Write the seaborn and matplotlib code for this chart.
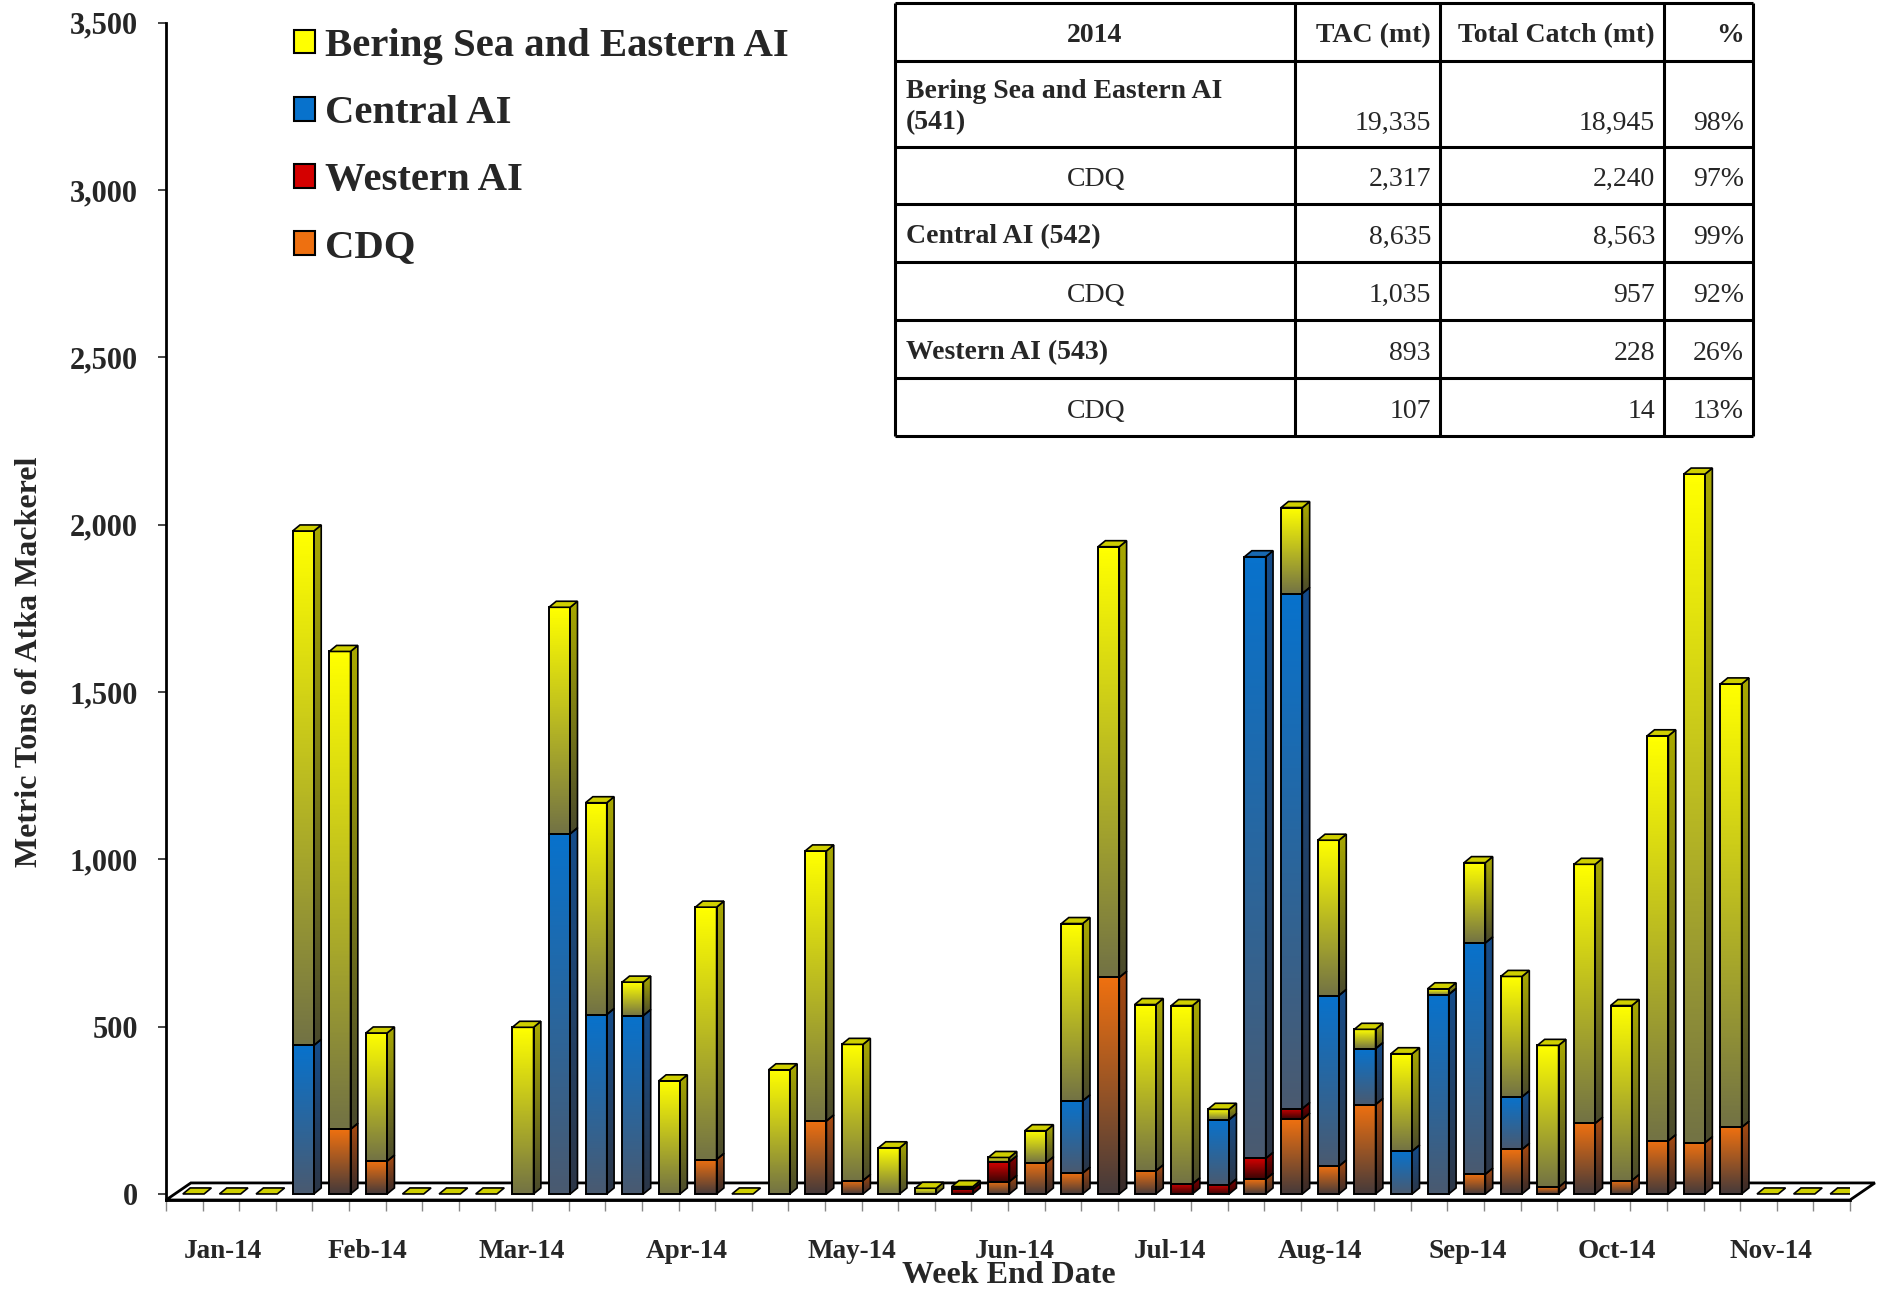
import numpy as np
import matplotlib
matplotlib.use("Agg")
import matplotlib.pyplot as plt
import seaborn as sns
from matplotlib.colors import LinearSegmentedColormap
from matplotlib.patches import Polygon, Patch

# weekly catch (mt), weeks ending Jan-14 .. Nov-14
weeks = np.arange(1, 47)
cdq = [0, 0, 0, 0, 193, 98, 0, 0, 0, 0,
       0, 0, 0, 0, 103, 0, 0, 218, 40, 0,
       0, 0, 37, 93, 62, 647, 69, 0, 0, 44,
       223, 83, 267, 0, 0, 59, 133, 20, 211, 40,
       159, 153, 199, 0, 0, 0]
western = [0, 0, 0, 0, 0, 0, 0, 0, 0, 0,
           0, 0, 0, 0, 0, 0, 0, 0, 0, 0,
           0, 14, 59, 0, 0, 0, 0, 30, 27, 62,
           32, 0, 0, 0, 0, 0, 0, 0, 0, 0,
           0, 0, 0, 0, 0, 0]
central = [0, 0, 0, 444, 0, 0, 0, 0, 0, 0,
           1076, 536, 533, 0, 0, 0, 0, 0, 0, 0,
           0, 0, 0, 0, 216, 0, 0, 0, 195, 1798,
           1539, 510, 167, 128, 596, 691, 157, 0, 0, 0,
           0, 0, 0, 0, 0, 0]
bsai = [0, 0, 0, 1537, 1428, 383, 0, 0, 0, 498,
        677, 633, 100, 338, 754, 0, 371, 807, 407, 138,
        17, 8, 13, 96, 530, 1287, 497, 533, 31, 0,
        257, 464, 58, 291, 17, 240, 360, 424, 774, 523,
        1210, 1998, 1325, 0, 0, 0]

months = ["Jan-14", "Feb-14", "Mar-14", "Apr-14", "May-14", "Jun-14",
          "Jul-14", "Aug-14", "Sep-14", "Oct-14", "Nov-14"]
month_pos = [1.56, 5.49, 9.72, 14.23, 18.74, 23.17, 27.43, 31.53, 35.55, 39.64, 43.83]

tbl_header = ["2014", "TAC (mt)", "Total Catch (mt)", "%"]
tbl_area = ["Bering Sea and Eastern AI", "CDQ", "Central AI (542)", "CDQ",
            "Western AI (543)", "CDQ"]
tbl_tac = ["19,335", "2,317", "8,635", "1,035", "893", "107"]
tbl_catch = ["18,945", "2,240", "8,563", "957", "228", "14"]
tbl_pct = ["98%", "97%", "99%", "92%", "26%", "13%"]

sns.set_style("white")
plt.rcParams["font.family"] = ["Liberation Serif", "DejaVu Serif"]
plt.rcParams["font.weight"] = "bold"

W, H = 1883, 1290
fig = plt.figure(figsize=(W / 100, H / 100), dpi=100)
ax = fig.add_axes([166 / W, 90 / H, 1684 / W, 1177.4 / H])

# (front top, front bottom, side top, side bottom, top face)
styles = {
    "CDQ": ("#EE7010", "#463A3A", "#A84A10", "#352A2A", "#D86010"),
    "Western AI": ("#D40000", "#3A0505", "#8A0000", "#2A0404", "#B00000"),
    "Central AI": ("#0872CC", "#4A5A70", "#154C8A", "#2C3646", "#1868B0"),
    "Bering Sea and Eastern AI": ("#FFFF00", "#737344", "#A8A800", "#4A4A2C", "#CFCF00"),
}
layers = [("CDQ", cdq), ("Western AI", western), ("Central AI", central),
          ("Bering Sea and Eastern AI", bsai)]

dx, dy = 0.2, 18  # 3-D depth offset in data units


def grad(patch, ctop, cbot, ext, z):
    cmap = LinearSegmentedColormap.from_list("g", [cbot, ctop])
    im = ax.imshow(np.linspace(0, 1, 64).reshape(-1, 1), cmap=cmap, extent=ext,
                   origin="lower", aspect="auto", zorder=z, interpolation="bilinear")
    im.set_clip_path(patch)


bottom = np.zeros(len(weeks))
segs = []
for name, vals in layers:
    vals = np.array(vals, dtype=float)
    top = bottom + vals
    n0 = len(ax.patches)
    sns.barplot(x=weeks, y=top, width=0.58, errorbar=None, ax=ax, color=styles[name][0],
                edgecolor="black", linewidth=1.4, zorder=3)
    for p, b, v in zip(ax.patches[n0:], bottom, vals):
        p.set_y(b)
        p.set_height(v)
        segs.append((p, name))
    bottom = top

totals = bottom
for p, name in segs:
    x, y, w, h = p.get_x(), p.get_y(), p.get_width(), p.get_height()
    st = styles[name]
    if h <= 0:
        p.set_visible(False)
        continue
    p.set_facecolor("none")
    grad(p, st[0], st[1], [x, x + w, y, y + h], 2.5)
    side = Polygon([(x + w, y), (x + w + dx, y + dy), (x + w + dx, y + h + dy), (x + w, y + h)],
                   closed=True, facecolor="none", edgecolor="black", linewidth=1.2, zorder=3)
    ax.add_patch(side)
    grad(side, st[2], st[3], [x + w, x + w + dx, y, y + h + dy], 2.5)

# top faces
for k in range(len(weeks)):
    p_k = [(p, n) for p, n in segs if abs(p.get_x() + p.get_width() / 2 - k) < 0.01]
    vis = [(p, n) for p, n in p_k if p.get_height() > 0]
    if vis:
        p, n = max(vis, key=lambda t: t[0].get_y())
    else:
        p, n = p_k[-1]
    x, w, t = p.get_x(), p.get_width(), totals[k]
    ax.add_patch(Polygon([(x, t), (x + dx, t + dy), (x + w + dx, t + dy), (x + w, t)],
                         closed=True, facecolor=styles[n][4], edgecolor="black",
                         linewidth=1.2, zorder=3.2))

# floor
ax.add_patch(Polygon([(-0.75, -18), (-0.75 + 0.68, 33), (45.25 + 0.68, 33), (45.25, -18)],
                     closed=True, facecolor="white", edgecolor="black", linewidth=2,
                     zorder=1, clip_on=False))

ax.set_xlim(-0.75, 45.25)
ax.set_ylim(-18, 3500)
ax.set_yticks(np.arange(0, 3501, 500))
ax.set_yticklabels([f"{v:,}" for v in range(0, 3501, 500)], fontsize=22, fontweight="bold")
ax.tick_params(axis="y", direction="out", length=6, width=1.2, pad=14, left=True)
ax.set_xticks([m - 0.75 for m in month_pos])
ax.set_xticklabels(months, fontsize=19.5, fontweight="bold")
ax.set_xticks(np.arange(47) - 0.75, minor=True)
ax.tick_params(axis="x", which="major", length=0, pad=28)
ax.tick_params(axis="x", which="minor", direction="out", length=8, width=1, color="#888888",
               bottom=True)
ax.set_xlabel("")
ax.set_ylabel("")
for s in ["top", "right"]:
    ax.spines[s].set_visible(False)
for s in ["left", "bottom"]:
    ax.spines[s].set_color("black")
    ax.spines[s].set_linewidth(2)

fig.text(30 / W, 1 - 662 / H, "Metric Tons of Atka Mackerel", rotation=90, ha="center",
         va="center", fontsize=23, fontweight="bold")
fig.text(1009 / W, 1 - 1283 / H, "Week End Date", ha="center", va="baseline",
         fontsize=23, fontweight="bold")

# legend
handles = [Patch(facecolor=styles[n][0], edgecolor="black", linewidth=1.5)
           for n in ["Bering Sea and Eastern AI", "Central AI", "Western AI", "CDQ"]]
fig.legend(handles, ["Bering Sea and Eastern AI", "Central AI", "Western AI", "CDQ"],
           loc="upper left", bbox_to_anchor=(294 / W, 1 - 28 / H), frameon=False,
           prop={"size": 29.3, "weight": "bold"}, handlelength=0.52, handleheight=0.52,
           handletextpad=0.25, labelspacing=0.74, borderpad=0, borderaxespad=0)

# summary table
col_edges = [895, 1295, 1440, 1664, 1753]
row_edges = [3, 61, 147, 204, 262, 320, 378, 436]
tx = fig.add_axes([895 / W, 1 - 436 / H, 858 / W, 433 / H])
tx.set_xlim(895, 1753)
tx.set_ylim(436, 3)
tx.axis("off")
tx.hlines(row_edges, 895, 1753, color="black", linewidth=2.2, clip_on=False)
tx.vlines(col_edges, 3, 436, color="black", linewidth=2.2, clip_on=False)
fs = 20
tx.text((895 + 1295) / 2, 36, tbl_header[0], ha="center", va="center", fontsize=fs)
for j in range(1, 4):
    tx.text(col_edges[j + 1] - 9, 36, tbl_header[j], ha="right", va="center", fontsize=fs)
for i in range(6):
    r0, r1 = row_edges[i + 1], row_edges[i + 2]
    yc = (r0 + r1) / 2 + 4 if i > 0 else 123
    if tbl_area[i] == "CDQ":
        tx.text(1096, yc, tbl_area[i], ha="center", va="center", fontsize=fs, fontweight="normal")
    elif i == 0:
        tx.text(906, 91, tbl_area[i], ha="left", va="center", fontsize=fs)
        tx.text(906, yc, "(541)", ha="left", va="center", fontsize=fs)
    else:
        tx.text(906, yc, tbl_area[i], ha="left", va="center", fontsize=fs)
    for j, col in enumerate([tbl_tac, tbl_catch, tbl_pct]):
        tx.text(col_edges[j + 2] - 9, yc, col[i], ha="right", va="center", fontsize=fs,
                fontweight="normal")

fig.savefig("out.png", dpi=100)
